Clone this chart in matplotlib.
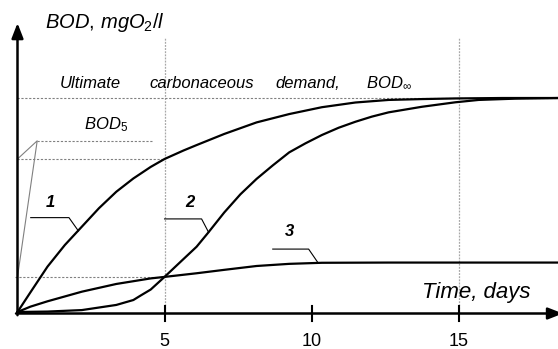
import matplotlib
matplotlib.use("Agg")
import matplotlib.pyplot as plt

plt.rcParams['font.family'] = ['Liberation Sans', 'DejaVu Sans']
plt.rcParams['mathtext.fontset'] = 'custom'
plt.rcParams['mathtext.rm'] = 'Liberation Sans'
plt.rcParams['mathtext.it'] = 'Liberation Sans:italic'
plt.rcParams['mathtext.bf'] = 'Liberation Sans:bold'

# curve 1 - carbonaceous BOD, normal start
days1 = [0, 0.44, 1.02, 1.61, 2.19, 2.77, 3.36, 3.94, 4.53, 5.0, 5.65, 6.09, 7.03, 8.13,
         9.24, 10.35, 11.49, 12.62, 13.75, 14.89, 16.5, 18.4]
bod1 = [0, 0.92, 2.12, 3.13, 3.99, 4.85, 5.62, 6.24, 6.78, 7.15, 7.55, 7.80, 8.32, 8.86,
        9.25, 9.57, 9.79, 9.91, 9.95, 9.98, 10.0, 10.0]

# curve 2 - lag phase (unacclimated seed)
days2 = [0, 1.02, 2.19, 3.36, 3.94, 4.2, 4.53, 5.0, 5.54, 6.09, 6.48, 7.03, 7.58, 8.13, 8.68,
         9.24, 9.79, 10.35, 10.92, 11.49, 12.05, 12.62, 13.75, 14.89, 15.68, 16.93, 18.4]
bod2 = [0, 0.02, 0.09, 0.33, 0.56, 0.78, 1.05, 1.64, 2.34, 3.05, 3.70, 4.65, 5.50, 6.22, 6.85,
        7.46, 7.88, 8.27, 8.61, 8.89, 9.13, 9.33, 9.59, 9.80, 9.91, 9.97, 10.0]

# curve 3 - inhibited / low BOD
days3 = [0, 0.44, 1.02, 2.19, 3.36, 4.53, 5.0, 6.09, 7.03, 8.13, 9.24, 10.35, 12.62, 14.89, 18.4]
bod3 = [0, 0.25, 0.50, 0.95, 1.31, 1.57, 1.64, 1.81, 1.97, 2.15, 2.25, 2.30, 2.31, 2.31, 2.31]

bod_ult = 10.0
bod5_1 = 7.15
bod5_3 = 1.64
xticks = [5, 10, 15]

fig = plt.figure(figsize=(5.58, 3.49), dpi=100)
ax = fig.add_axes([0, 0, 1, 1])
ax.set_xlim(-0.595, 18.38)
ax.set_ylim(-1.729, 14.58)
ax.axis('off')

grey = '#808080'
light = '#a8a8a8'
dash = (0, (2, 1.5))

# vertical grid lines at 5 and 15 days
for d in [5, 15]:
    ax.plot([d, d], [0, 12.8], color=light, lw=0.9, ls=(0, (1.5, 1)), zorder=1)

# reference levels
ax.plot([0, 18.4], [bod_ult, bod_ult], color=grey, lw=0.8, ls=dash, zorder=1)
ax.plot([0, 5], [bod5_1, bod5_1], color=grey, lw=0.8, ls=dash, zorder=1)
ax.plot([-0.1, 5], [bod5_3, bod5_3], color=grey, lw=0.8, ls=dash, zorder=1)
ax.plot([0.67, 4.6], [8.0, 8.0], color=grey, lw=0.8, ls=dash, zorder=1)
ax.plot([0, 0.67, 0], [bod5_1, 8.0, bod5_3], color=grey, lw=0.8, zorder=1)

# curves
ax.plot(days1, bod1, color='black', lw=1.6, zorder=3)
ax.plot(days2, bod2, color='black', lw=1.6, zorder=3)
ax.plot(days3, bod3, color='black', lw=1.6, zorder=3)

# leaders and curve numbers
ax.plot([0.45, 1.75, 2.07], [4.41, 4.41, 3.79], color='black', lw=0.8, zorder=2)
ax.plot([5.0, 6.26, 6.5], [4.35, 4.35, 3.72], color='black', lw=0.8, zorder=2)
ax.plot([8.68, 9.90, 10.22], [2.94, 2.94, 2.30], color='black', lw=0.8, zorder=2)
for lab, x, y in [('1', 1.11, 5.14), ('2', 5.86, 5.14), ('3', 9.24, 3.74)]:
    ax.text(x, y, lab, fontsize=12, fontweight='bold', fontstyle='italic',
            ha='center', va='center')

# axes with arrows
head = '-|>,head_length=0.9,head_width=0.35'
ax.annotate('', xy=(0, 13.5), xytext=(0, -0.15),
            arrowprops=dict(arrowstyle=head, color='black', lw=1.8, shrinkA=0, shrinkB=0))
ax.annotate('', xy=(18.55, -0.07), xytext=(-0.05, -0.07), annotation_clip=False,
            arrowprops=dict(arrowstyle=head, color='black', lw=1.8, shrinkA=0, shrinkB=0))
for d in xticks:
    ax.plot([d, d], [-0.4, 0.3], color='black', lw=1.5)
    ax.text(d, -1.4, str(d), fontsize=13, ha='center', va='center')

# text
ax.text(0.94, 13.55, r'$BOD,\,mgO_2/l$', fontsize=14.5, ha='left', va='center')
ax.text(13.74, 0.93, 'Time, days', fontsize=16, fontstyle='italic', ha='left', va='center')
ax.text(2.48, 10.7, 'Ultimate', fontsize=12, fontstyle='italic', ha='center', va='center')
ax.text(6.26, 10.7, 'carbonaceous', fontsize=12, fontstyle='italic', ha='center', va='center')
ax.text(9.88, 10.7, 'demand,', fontsize=12, fontstyle='italic', ha='center', va='center')
ax.text(12.62, 10.7, r'$BOD_\infty$', fontsize=12, ha='center', va='center')
ax.text(3.0, 8.74, r'$BOD_5$', fontsize=12, ha='center', va='center')

fig.savefig('out.png', dpi=100)
